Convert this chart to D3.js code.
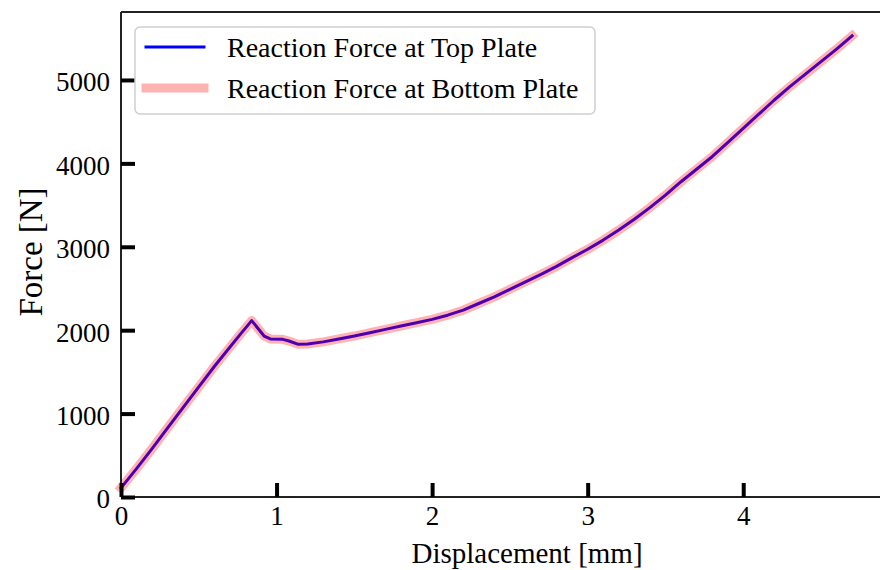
<!DOCTYPE html>
<html>
<head>
<meta charset="utf-8">
<script src="https://cdn.jsdelivr.net/npm/d3@7"></script>
<style>
  body { margin: 0; background: #fff; }
  svg { display: block; }
  text { font-family: "Liberation Serif", "Times New Roman", serif; fill: #000; }
</style>
</head>
<body>
<svg id="chart"></svg>
<script>
// force vs displacement, top and bottom plate give the same curve

// data
let displacement = [0, 0.1, 0.2, 0.3, 0.4, 0.5, 0.6, 0.68, 0.76, 0.84,
  0.92, 0.96, 1.04, 1.08, 1.14, 1.2, 1.3, 1.4, 1.5, 1.6, 1.7, 1.8, 1.9,
  2.0, 2.1, 2.2, 2.3, 2.4, 2.5, 2.6, 2.7, 2.8, 2.9, 3.0, 3.1, 3.2, 3.3,
  3.4, 3.5, 3.6, 3.7, 3.8, 3.9, 4.0, 4.1, 4.2, 4.3, 4.4, 4.5, 4.6, 4.7];
let forceTop = [110, 340, 580, 830, 1075, 1320, 1565, 1750, 1935, 2115,
  1930, 1895, 1890, 1870, 1830, 1835, 1860, 1895, 1930, 1970, 2010, 2050, 2090,
  2130, 2180, 2240, 2320, 2400, 2490, 2580, 2670, 2765, 2870, 2970, 3080, 3200, 3330,
  3470, 3620, 3780, 3930, 4080, 4250, 4420, 4590, 4760, 4920, 5070, 5220, 5370, 5530];
let forceBottom = forceTop.slice(); // same reaction, drawn as the wide pink band
let xTicks = [0, 1, 2, 3, 4];
let yTicks = [0, 1000, 2000, 3000, 4000, 5000];
let legendLabels = ["Reaction Force at Top Plate", "Reaction Force at Bottom Plate"];

// window
let win = {w: 880, h: 570};
let plot = {left: 121, top: 12, right: 933, bottom: 497};

const svg = d3.select("#chart")
  .attr("width", win.w)
  .attr("height", win.h);

let x = d3.scaleLinear().domain([0, 5.22]).range([plot.left, plot.right]);
let y = d3.scaleLinear().domain([0, 5815]).range([plot.bottom, plot.top]);

let topData = displacement.map((d, i) => [d, forceTop[i]]);
let bottomData = displacement.map((d, i) => [d, forceBottom[i]]);

let line = d3.line().x(d => x(d[0])).y(d => y(d[1]));

// colors
let blue = "#0000ff";
let pink = "rgba(255,0,0,0.3)";

// curves: blue first, translucent red band over it
svg.append("path")
  .attr("d", line(topData))
  .attr("fill", "none")
  .attr("stroke", blue)
  .attr("stroke-width", 3)
  .attr("stroke-linejoin", "round")
  .attr("stroke-linecap", "square");

svg.append("path")
  .attr("d", line(bottomData))
  .attr("fill", "none")
  .attr("stroke", pink)
  .attr("stroke-width", 9)
  .attr("stroke-linejoin", "round")
  .attr("stroke-linecap", "square");

// spines
let spine = "#222";
svg.append("line")
  .attr("x1", plot.left).attr("x2", plot.right)
  .attr("y1", plot.top).attr("y2", plot.top)
  .attr("stroke", spine).attr("stroke-width", 2);
svg.append("line")
  .attr("x1", plot.left).attr("x2", plot.right)
  .attr("y1", plot.bottom).attr("y2", plot.bottom)
  .attr("stroke", spine).attr("stroke-width", 2);
svg.append("line")
  .attr("x1", plot.left).attr("x2", plot.left)
  .attr("y1", plot.top).attr("y2", plot.bottom)
  .attr("stroke", spine).attr("stroke-width", 2);

// ticks, pointing inward
let tickLen = 14;
let tickFont = 27;

let xAxis = d3.axisBottom(x).tickValues(xTicks).tickFormat(d3.format("d"))
  .tickSizeInner(-tickLen).tickSizeOuter(0).tickPadding(9);
let gx = svg.append("g")
  .attr("transform", "translate(0," + plot.bottom + ")")
  .call(xAxis);
gx.select(".domain").remove();
gx.selectAll(".tick line").attr("stroke", "#000").attr("stroke-width", 4);
gx.selectAll(".tick text")
  .attr("font-size", tickFont)
  .attr("font-family", "Liberation Serif")
  .attr("fill", "#000");

let yAxis = d3.axisLeft(y).tickValues(yTicks).tickFormat(d3.format("d"))
  .tickSizeInner(-tickLen).tickSizeOuter(0).tickPadding(11);
let gy = svg.append("g")
  .attr("transform", "translate(" + plot.left + ",0)")
  .call(yAxis);
gy.select(".domain").remove();
gy.selectAll(".tick line").attr("stroke", "#000").attr("stroke-width", 4);
gy.selectAll(".tick text")
  .attr("font-size", tickFont)
  .attr("font-family", "Liberation Serif")
  .attr("dy", "0.4em")
  .attr("fill", "#000");

// axis titles
svg.append("text")
  .attr("x", (plot.left + plot.right) / 2)
  .attr("y", 563)
  .attr("text-anchor", "middle")
  .attr("font-size", 29)
  .text("Displacement [mm]");

svg.append("text")
  .attr("transform", "translate(42,252) rotate(-90)")
  .attr("text-anchor", "middle")
  .attr("font-size", 33)
  .text("Force [N]");

// LEGEND
let legend = {x: 135, y: 27, w: 460, h: 87};
svg.append("rect")
  .attr("x", legend.x).attr("y", legend.y)
  .attr("width", legend.w).attr("height", legend.h)
  .attr("rx", 5)
  .attr("fill", "rgba(255,255,255,0.8)")
  .attr("stroke", "#d0d0d0")
  .attr("stroke-width", 1.5);

let legendRows = [
  {label: legendLabels[0], color: blue, width: 3, y: 47},
  {label: legendLabels[1], color: pink, width: 9, y: 88}
];
legendRows.forEach(function(r) {
  svg.append("line")
    .attr("x1", 146).attr("x2", 204)
    .attr("y1", r.y).attr("y2", r.y)
    .attr("stroke", r.color)
    .attr("stroke-width", r.width)
    .attr("stroke-linecap", "square");
  svg.append("text")
    .attr("x", 227)
    .attr("y", r.y + 10)
    .attr("font-size", 28)
    .text(r.label);
});
</script>
</body>
</html>
